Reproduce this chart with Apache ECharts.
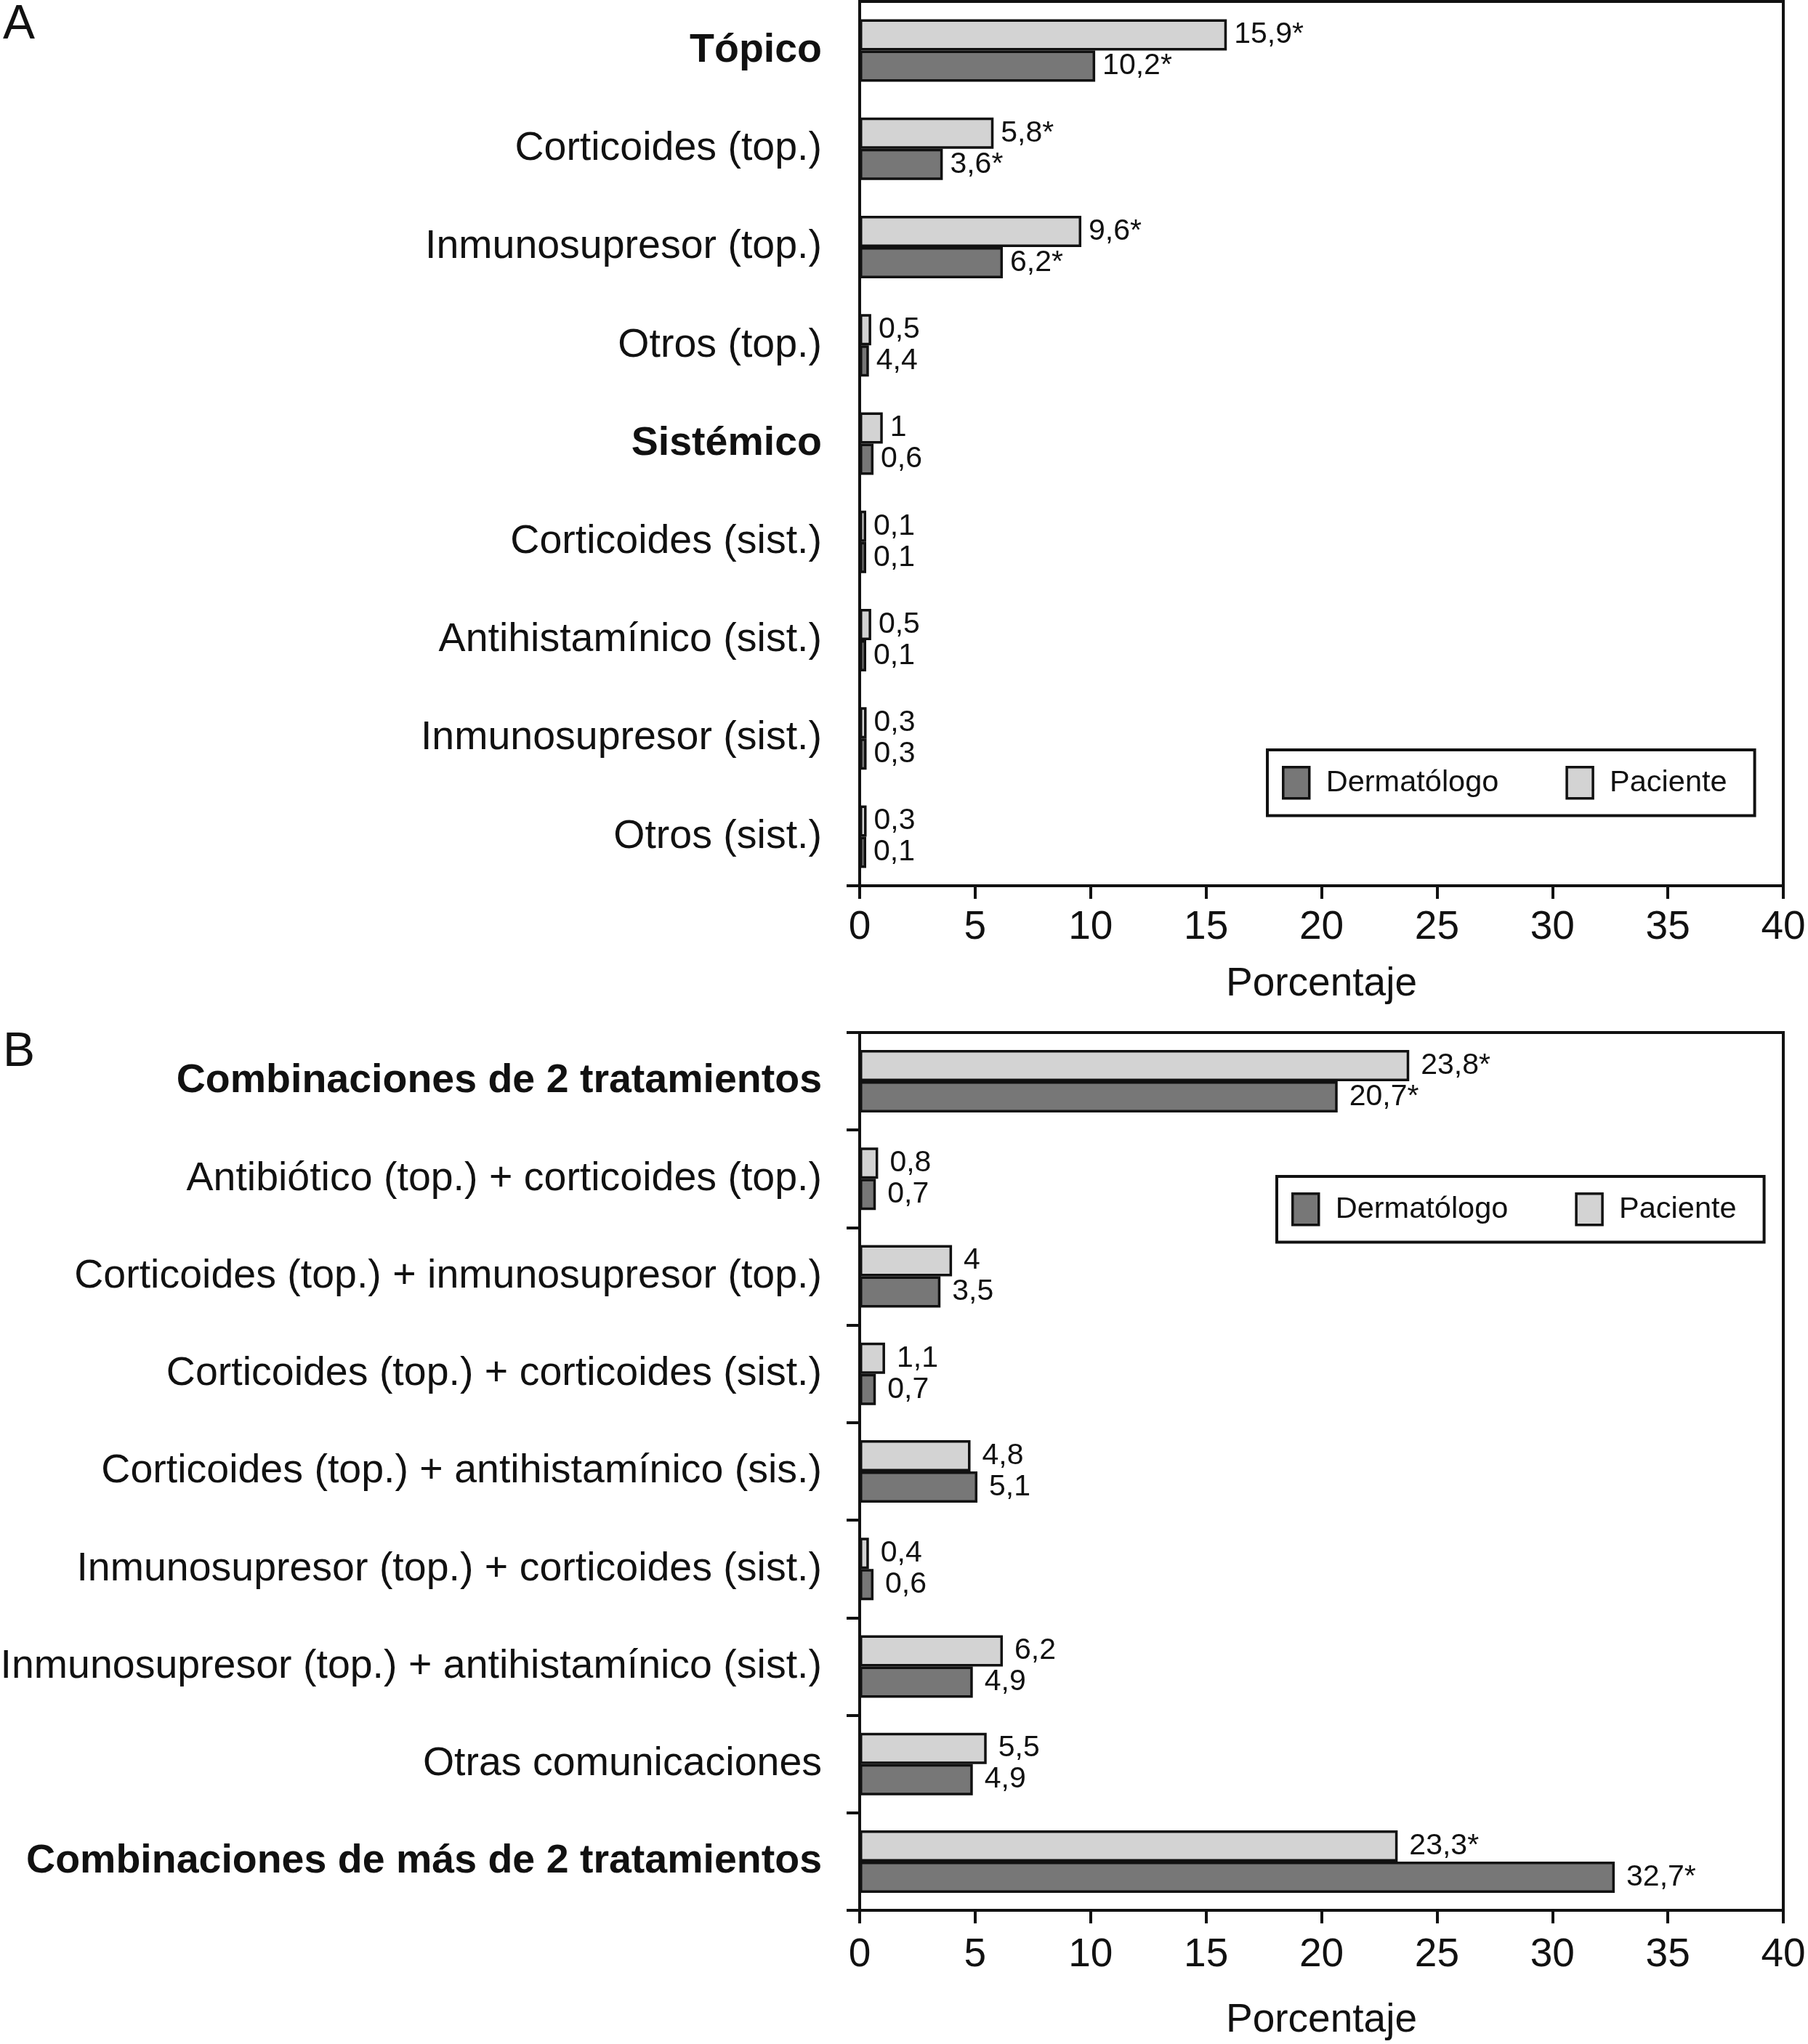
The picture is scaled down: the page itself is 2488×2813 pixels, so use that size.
<!DOCTYPE html>
<html>
<head>
<meta charset="utf-8">
<script src="https://cdn.jsdelivr.net/npm/echarts@6/dist/echarts.min.js"></script>
<style>
html,body{margin:0;padding:0;background:#fff;}
#chart{width:2488px;height:2813px;}
</style>
</head>
<body>
<div id="chart"></div>
<script>
// ---- Data ----
const catsA = ['Tópico','Corticoides (top.)','Inmunosupresor (top.)','Otros (top.)','Sistémico','Corticoides (sist.)','Antihistamínico (sist.)','Inmunosupresor (sist.)','Otros (sist.)'];
const pacA = [15.9, 5.8, 9.6, 0.5, 1, 0.1, 0.5, 0.3, 0.3];
const derA = [10.2, 3.6, 6.2, 0.4, 0.6, 0.1, 0.1, 0.3, 0.1];
const pacALbl = ['15,9*','5,8*','9,6*','0,5','1','0,1','0,5','0,3','0,3'];
const derALbl = ['10,2*','3,6*','6,2*','4,4','0,6','0,1','0,1','0,3','0,1'];

const catsB = ['Combinaciones de 2 tratamientos','Antibiótico (top.) + corticoides (top.)','Corticoides (top.) + inmunosupresor (top.)','Corticoides (top.) + corticoides (sist.)','Corticoides (top.) + antihistamínico (sis.)','Inmunosupresor (top.) + corticoides (sist.)','Inmunosupresor (top.) + antihistamínico (sist.)','Otras comunicaciones','Combinaciones de más de 2 tratamientos'];
const pacB = [23.8, 0.8, 4, 1.1, 4.8, 0.4, 6.2, 5.5, 23.3];
const derB = [20.7, 0.7, 3.5, 0.7, 5.1, 0.6, 4.9, 4.9, 32.7];
const pacBLbl = ['23,8*','0,8','4','1,1','4,8','0,4','6,2','5,5','23,3*'];
const derBLbl = ['20,7*','0,7','3,5','0,7','5,1','0,6','4,9','4,9','32,7*'];

const boldCats = ['Tópico','Sistémico','Combinaciones de 2 tratamientos','Combinaciones de más de 2 tratamientos'];
const xTicks = [0, 40, 5]; // min, max, interval
const seriesNames = ['Dermatólogo','Paciente'];

// ---- Styles ----
const FONT = '"Liberation Sans", Arial, Helvetica, sans-serif';
const INK = '#111111';
const DARK = '#777777';
const LIGHT = '#d3d3d3';

const chart = echarts.init(document.getElementById('chart'), null, {renderer:'canvas'});

function xAxisCfg(gridIndex, labelMargin, nameGap) {
  return {
    type:'value', gridIndex, min:xTicks[0], max:xTicks[1], interval:xTicks[2],
    splitLine:{show:false},
    axisLine:{show:true, lineStyle:{color:INK, width:4}},
    axisTick:{show:true, length:18, lineStyle:{color:INK, width:4}},
    axisLabel:{color:INK, fontSize:55, fontFamily:FONT, margin:labelMargin},
    name:'Porcentaje', nameLocation:'middle', nameGap:nameGap,
    nameTextStyle:{color:INK, fontSize:55, fontFamily:FONT}
  };
}
function yAxisCfg(gridIndex, cats, showTicks) {
  return {
    type:'category', gridIndex, data:cats, inverse:true,
    axisLine:{show:true, lineStyle:{color:INK, width:4}},
    axisTick:{show:showTicks, length:18, lineStyle:{color:INK, width:4}},
    axisLabel:{
      color:INK, fontSize:55.5, fontFamily:FONT, margin:52,
      formatter:(v) => boldCats.includes(v) ? '{b|' + v + '}' : v,
      rich:{b:{fontWeight:'bold', fontSize:55.5, fontFamily:FONT, color:INK}}
    }
  };
}
function barSeries(name, xi, vals, lbls, color, dist) {
  return {
    type:'bar', name, xAxisIndex:xi, yAxisIndex:xi, data:vals,
    barWidth:43, barGap:'0%', barMinHeight:9,
    itemStyle:{color, borderColor:INK, borderWidth:3.5},
    label:{show:true, position:'right', distance:dist, color:INK, fontSize:41, fontFamily:FONT,
      formatter:(p) => lbls[p.dataIndex]},
    emphasis:{disabled:true},
    animation:false
  };
}
function legendCfg(left, top) {
  return {
    data:seriesNames, left, top, orient:'horizontal',
    icon:'rect', itemWidth:36, itemHeight:43, itemGap:92,
    padding:[22, 38, 22, 20],
    borderColor:INK, borderWidth:4, backgroundColor:'#fff',
    selectedMode:false,
    textStyle:{color:INK, fontSize:41.5, fontFamily:FONT, padding:[0,0,0,18]},
    itemStyle:{borderColor:INK, borderWidth:3.5}
  };
}

const option = {
  backgroundColor:'#fff',
  animation:false,
  grid:[
    {left:1183, right:34, top:2, height:1217, containLabel:false, outerBoundsMode:'none',
     show:true, borderColor:INK, borderWidth:4, backgroundColor:'transparent'},
    {left:1183, right:34, top:1421, height:1208, containLabel:false, outerBoundsMode:'none',
     show:true, borderColor:INK, borderWidth:4, backgroundColor:'transparent'}
  ],
  xAxis:[ xAxisCfg(0, 30, 108), xAxisCfg(1, 34, 124) ],
  yAxis:[ yAxisCfg(0, catsA, false), yAxisCfg(1, catsB, true) ],
  legend:[ legendCfg(1744, 1032), legendCfg(1757, 1619) ],
  graphic:[
    {type:'text', left:4, top:2, style:{text:'A', fontSize:66, fontFamily:FONT, fill:INK}},
    {type:'text', left:4, top:1416, style:{text:'B', fontSize:66, fontFamily:FONT, fill:INK}},
    {type:'line', shape:{x1:1165, y1:1219, x2:1183, y2:1219}, style:{stroke:INK, lineWidth:4}}
  ],
  series:[
    barSeries('Paciente', 0, pacA, pacALbl, LIGHT, 10),
    barSeries('Dermatólogo', 0, derA, derALbl, DARK, 10),
    barSeries('Paciente', 1, pacB, pacBLbl, LIGHT, 16),
    barSeries('Dermatólogo', 1, derB, derBLbl, DARK, 16)
  ]
};
chart.setOption(option);
</script>
</body>
</html>
